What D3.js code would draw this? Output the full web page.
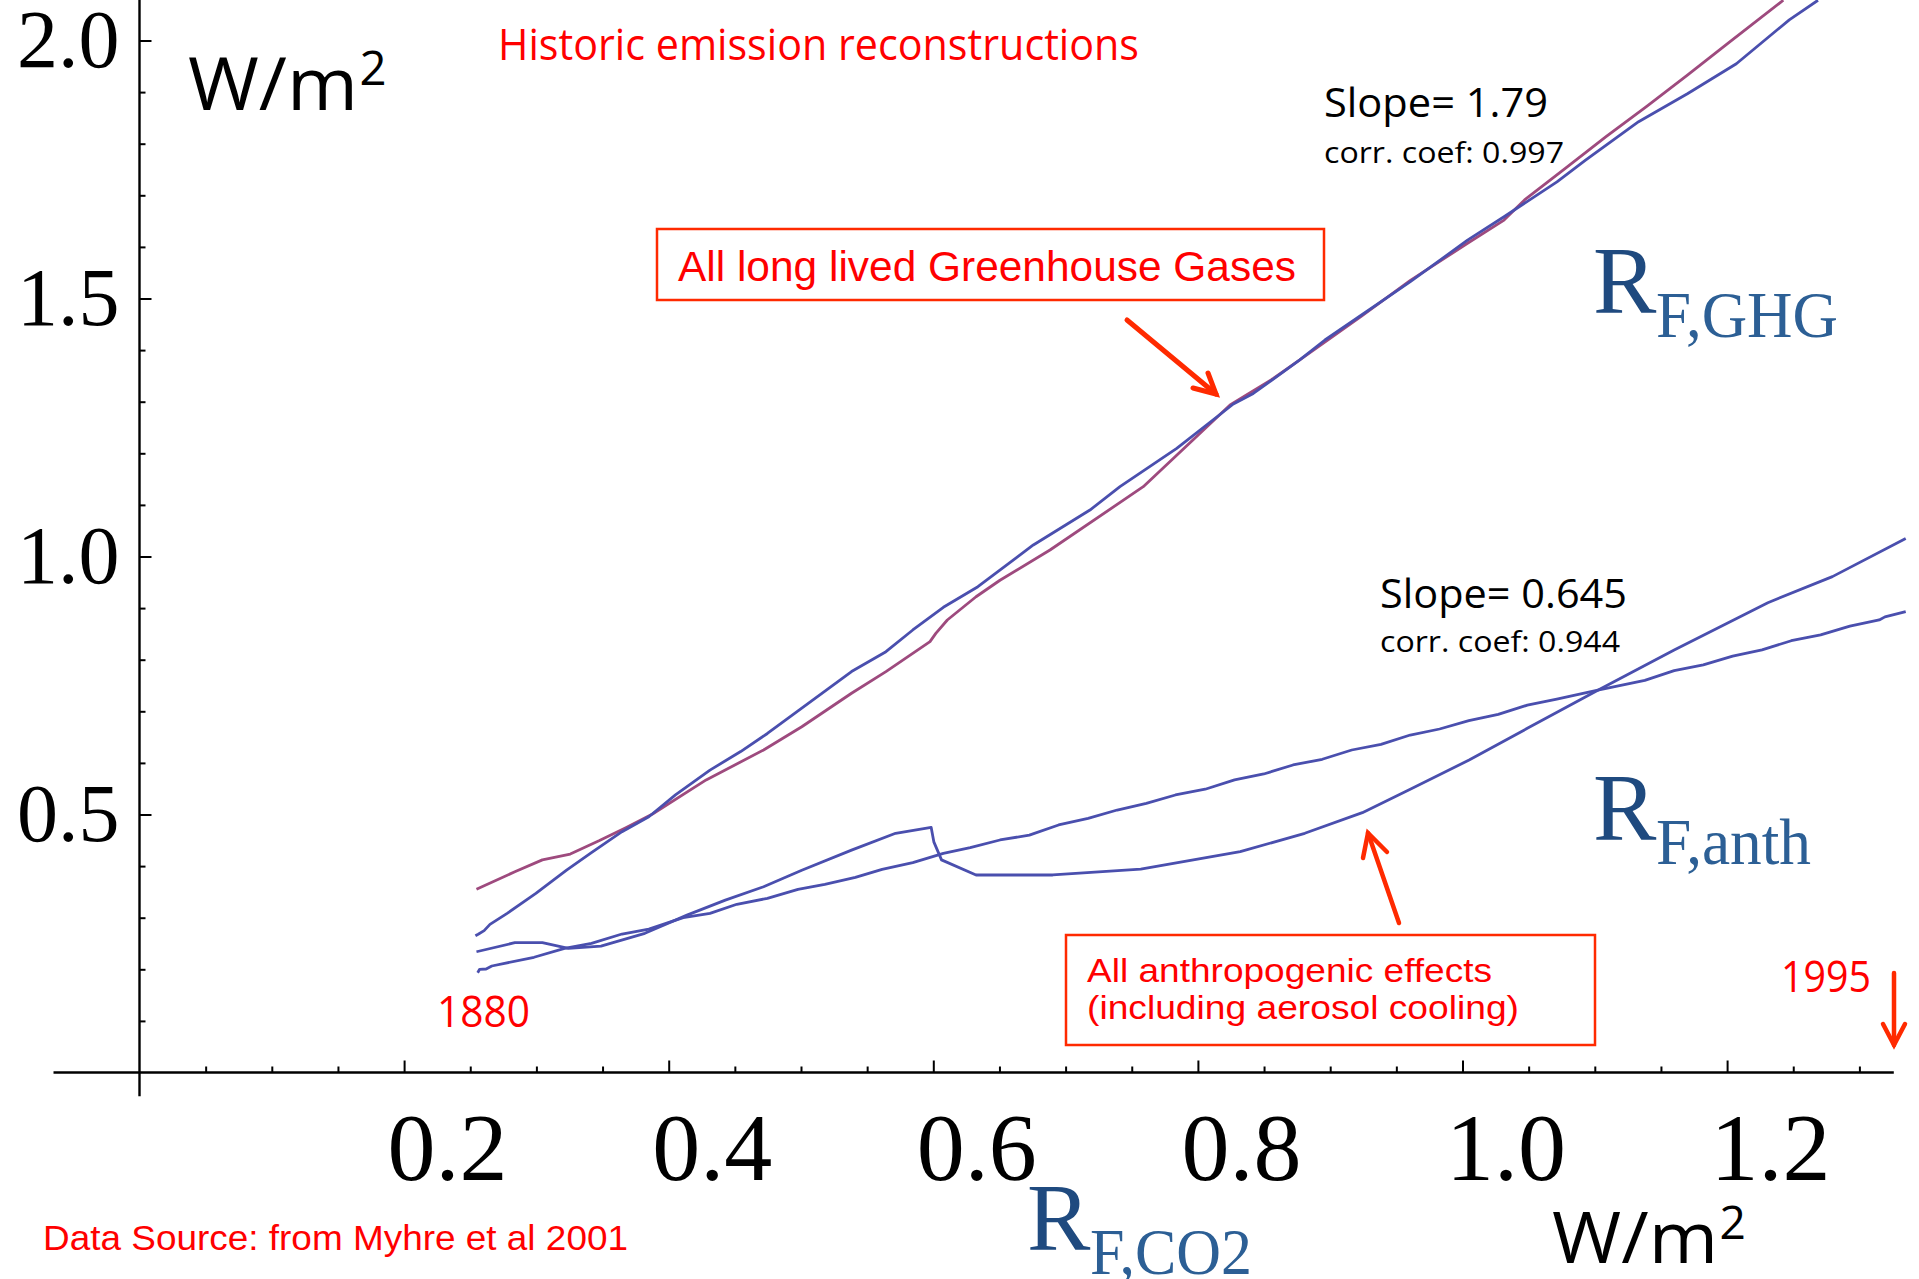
<!DOCTYPE html>
<html>
<head>
<meta charset="utf-8">
<script src="https://cdn.jsdelivr.net/npm/d3@7"></script>
<style>
  html, body { margin: 0; padding: 0; background: #fff; }
  svg { display: block; }
</style>
</head>
<body>
<svg id="chart" width="1919" height="1279"></svg>
<script>
// Radiative forcing of greenhouse gases / all anthropogenic effects
// plotted against CO2 forcing (W/m²), 1880–1995.

// x-axis ticks (CO2 forcing, W/m²)
const xMajorTicks = [0.2, 0.4, 0.6, 0.8, 1.0, 1.2];
const xMinorTicks = [0.05, 0.1, 0.15, 0.25, 0.3, 0.35, 0.45, 0.5, 0.55, 0.65, 0.7, 0.75,
                     0.85, 0.9, 0.95, 1.05, 1.1, 1.15, 1.25, 1.3];
// y-axis ticks (W/m²)
const yMajorTicks = [0.5, 1.0, 1.5, 2.0];
const yMinorTicks = [0.1, 0.2, 0.3, 0.4, 0.6, 0.7, 0.8, 0.9, 1.1, 1.2, 1.3, 1.4,
                     1.6, 1.7, 1.8, 1.9];

// All long-lived greenhouse gases, first reconstruction  [RF_CO2, RF_GHG]
const ghgSeries = [
  [0.2539,0.265],[0.256,0.268],[0.2605,0.275],[0.2649,0.287],[0.2779,0.3085],[0.2996,0.347],
  [0.3228,0.392],[0.3416,0.426],[0.3647,0.4667],[0.385,0.4957],[0.4051,0.538],[0.4312,0.586],
  [0.4544,0.622],[0.4746,0.657],[0.5006,0.706],[0.5382,0.777],[0.5642,0.8155],[0.5845,0.8576],
  [0.6076,0.9015],[0.6337,0.9415],[0.6756,1.0223],[0.7184,1.090],[0.7411,1.1353],[0.784,1.2096],
  [0.8268,1.2955],[0.8419,1.316],[0.877,1.381],[0.896,1.4196],[0.9237,1.468],[0.9606,1.5326],
  [1.0038,1.613],[1.0314,1.6585],[1.0714,1.726],[1.093,1.768],[1.1331,1.8426],[1.170,1.8967],
  [1.207,1.955],[1.247,2.04],[1.2687,2.078]
];
// All long-lived greenhouse gases, second reconstruction
const ghgAltSeries = [
  [0.2547,0.355],[0.2837,0.389],[0.3045,0.412],[0.3256,0.4234],[0.3473,0.449],[0.3676,0.4744],
  [0.3878,0.501],[0.4283,0.567],[0.4717,0.625],[0.5006,0.670],[0.5382,0.735],[0.5642,0.777],
  [0.5975,0.835],[0.6019,0.851],[0.6106,0.877],[0.6323,0.922],[0.6504,0.954],[0.6882,1.0126],
  [0.7587,1.1353],[0.8243,1.2936],[0.857,1.345],[0.877,1.381],[0.9237,1.466],[0.9606,1.535],
  [1.0038,1.607],[1.0314,1.652],[1.0469,1.691],[1.0777,1.752],[1.1085,1.8136],[1.139,1.872],
  [1.170,1.933],[1.2008,1.995],[1.2425,2.078]
];
// All anthropogenic effects (including aerosol cooling), first reconstruction
const anthSeriesA = [
  [0.2547,0.234],[0.2837,0.2516],[0.3045,0.2516],[0.3242,0.2407],[0.3488,0.245],[0.382,0.2697],
  [0.4138,0.305],[0.4428,0.334],[0.4717,0.360],[0.5006,0.392],[0.5382,0.431],[0.5715,0.4636],
  [0.5984,0.475],[0.6004,0.447],[0.6062,0.412],[0.6323,0.3828],[0.6903,0.3828],[0.7568,0.394],
  [0.832,0.428],[0.8808,0.4636],[0.9243,0.5036],[0.9605,0.5488],[1.005,0.6056],[1.049,0.667],
  [1.1023,0.741],[1.16,0.819],[1.2308,0.9105],[1.2796,0.961],[1.335,1.035]
];
// All anthropogenic effects, second reconstruction
const anthSeriesB = [
  [0.2556,0.1934],[0.2571,0.200],[0.262,0.2006],[0.2663,0.2064],[0.2982,0.2233],[0.3213,0.2407],
  [0.3416,0.2504],[0.3647,0.2684],[0.385,0.278],[0.411,0.300],[0.4312,0.3085],[0.4515,0.326],
  [0.4746,0.3376],[0.4977,0.355],[0.518,0.3647],[0.5411,0.378],[0.5613,0.3938],[0.5845,0.4066],
  [0.6076,0.4248],[0.6279,0.4357],[0.6504,0.4506],[0.6726,0.460],[0.6947,0.4797],[0.717,0.4926],
  [0.739,0.5087],[0.761,0.5217],[0.783,0.5378],[0.8055,0.549],[0.8277,0.567],[0.8498,0.5785],
  [0.8719,0.596],[0.894,0.607],[0.9163,0.625],[0.9384,0.636],[0.9605,0.654],[0.9827,0.6657],
  [1.0048,0.6818],[1.027,0.694],[1.049,0.712],[1.0713,0.7236],[1.1023,0.741],[1.1378,0.760],
  [1.16,0.7788],[1.182,0.790],[1.2042,0.807],[1.2264,0.819],[1.2485,0.8368],[1.2707,0.848],
  [1.2928,0.865],[1.315,0.877],[1.3193,0.883],[1.335,0.893]
];

const svg = d3.select("#chart");
svg.append("rect").attr("width", 1919).attr("height", 1279).attr("fill", "#fff");

const x = d3.scaleLinear().domain([0, 1.2]).range([139.5, 1727.1]);
const y = d3.scaleLinear().domain([0, 2]).range([1072.5, 40.5]);

const RED = "#ff0000";
const ARROW_RED = "#ff2a00";
const BLUE_LINE = "#4a4fae";
const PURPLE_LINE = "#9e4a7e";
const SANS = "'Open Sans', 'Noto Sans', sans-serif";
const SERIF = "'Liberation Serif', 'Times New Roman', serif";
const ARIAL = "'Liberation Sans', Arial, sans-serif";

// ---- axes ----
const axisColor = "#000";
// x axis
const gx = svg.append("g").attr("transform", `translate(0,${y(0)})`);
gx.append("g").call(d3.axisBottom(x).tickValues(xMinorTicks).tickSize(-6).tickFormat(""))
  .call(g => g.select(".domain").remove());
const gxMajor = gx.append("g")
  .call(d3.axisBottom(x).tickValues(xMajorTicks).tickSize(-12).tickPadding(39)
        .tickFormat(d3.format(".1f")))
  .call(g => g.select(".domain").remove());
gxMajor.selectAll("text")
  .attr("x", 43)
  .attr("font-family", SERIF).attr("font-size", 96).attr("fill", "#000");
gx.selectAll("line").attr("stroke", axisColor).attr("stroke-width", 2);
gx.append("line")
  .attr("x1", x(-0.065)).attr("x2", x(1.326))
  .attr("stroke", axisColor).attr("stroke-width", 2.4);

// y axis
const gy = svg.append("g").attr("transform", `translate(${x(0)},0)`);
gy.append("g").call(d3.axisLeft(y).tickValues(yMinorTicks).tickSize(-6).tickFormat(""))
  .call(g => g.select(".domain").remove());
const gyMajor = gy.append("g")
  .call(d3.axisLeft(y).tickValues(yMajorTicks).tickSize(-12).tickPadding(20)
        .tickFormat(d3.format(".1f")))
  .call(g => g.select(".domain").remove());
gyMajor.selectAll("text")
  .attr("font-family", SERIF).attr("font-size", 82).attr("fill", "#000");
gy.selectAll("line").attr("stroke", axisColor).attr("stroke-width", 2);
gy.append("line")
  .attr("y1", y(2.1)).attr("y2", y(-0.046))
  .attr("stroke", axisColor).attr("stroke-width", 2.4);

// ---- data lines ----
svg.append("clipPath").attr("id", "plotClip")
  .append("rect").attr("x", x(0)).attr("y", 0)
  .attr("width", 1919 - x(0)).attr("height", y(0));

const line = d3.line().x(d => x(d[0])).y(d => y(d[1]));
const lines = svg.append("g").attr("clip-path", "url(#plotClip)")
  .attr("fill", "none").attr("stroke-width", 2.8)
  .attr("stroke-linejoin", "round").attr("stroke-linecap", "butt");
lines.append("path").datum(ghgAltSeries).attr("d", line).attr("stroke", PURPLE_LINE);
lines.append("path").datum(ghgSeries).attr("d", line).attr("stroke", BLUE_LINE);
lines.append("path").datum(anthSeriesB).attr("d", line).attr("stroke", BLUE_LINE);
lines.append("path").datum(anthSeriesA).attr("d", line).attr("stroke", BLUE_LINE);

// ---- text helpers ----
function label(txt, xPos, yPos, opts) {
  const t = svg.append("text")
    .attr("x", xPos).attr("y", yPos)
    .attr("font-family", opts.family || SANS)
    .attr("font-size", opts.size)
    .attr("fill", opts.fill || "#000")
    .text(txt);
  if (opts.width) t.attr("textLength", opts.width).attr("lengthAdjust", "spacingAndGlyphs");
  return t;
}

function unitLabel(xPos, yPos, size, width) {
  const t = svg.append("text")
    .attr("x", xPos).attr("y", yPos)
    .attr("font-family", SANS).attr("font-size", size).attr("fill", "#000");
  t.append("tspan").text("W/m").attr("textLength", width).attr("lengthAdjust", "spacingAndGlyphs");
  t.append("tspan").text("2").attr("font-size", size * 0.64)
    .attr("dx", size * 0.02).attr("dy", -size * 0.34);
}

function forcingLabel(sub, xPos, yPos, subWidth) {
  label("R", xPos, yPos, { family: SERIF, size: 95, fill: "#1f4a7f" });
  label(sub, xPos + 63, yPos + 24, { family: SERIF, size: 65, fill: "#2c5f95", width: subWidth });
}

function arrow(from, to, barbA, barbB, width) {
  const g = svg.append("g").attr("stroke", ARROW_RED).attr("stroke-width", width)
    .attr("fill", "none").attr("stroke-linecap", "round").attr("stroke-linejoin", "miter");
  g.append("line").attr("x1", from[0]).attr("y1", from[1]).attr("x2", to[0]).attr("y2", to[1]);
  g.append("polyline").attr("points", [barbA, to, barbB].map(p => p.join(",")).join(" "));
}

// ---- annotations ----
unitLabel(188, 110, 74, 170);
unitLabel(1552, 1263, 72, 166);

label("Historic emission reconstructions", 498, 60, { size: 43, fill: RED, width: 641 });

svg.append("rect").attr("x", 657).attr("y", 229).attr("width", 667).attr("height", 71)
  .attr("fill", "none").attr("stroke", ARROW_RED).attr("stroke-width", 2.5);
label("All long lived Greenhouse Gases", 678, 281, { family: ARIAL, size: 43, fill: RED, width: 618 });
arrow([1127, 320], [1216, 394], [1193, 388], [1208, 373], 5);

label("Slope= 1.79", 1324, 117, { size: 40, width: 224 });
label("corr. coef: 0.997", 1324, 163, { size: 29, width: 240 });
forcingLabel("F,GHG", 1593, 313, 182);

label("Slope= 0.645", 1380, 608, { size: 40, width: 247 });
label("corr. coef: 0.944", 1380, 652, { size: 29, width: 240 });
forcingLabel("F,anth", 1593, 840, 155);

svg.append("rect").attr("x", 1066).attr("y", 935).attr("width", 529).attr("height", 110)
  .attr("fill", "none").attr("stroke", ARROW_RED).attr("stroke-width", 2.5);
label("All anthropogenic effects", 1087, 982, { family: ARIAL, size: 33, fill: RED, width: 405 });
label("(including aerosol cooling)", 1087, 1019, { family: ARIAL, size: 33, fill: RED, width: 432 });
arrow([1399, 923], [1368, 833], [1363, 858], [1387, 852], 4.5);

label("1995", 1781, 992, { size: 43, fill: RED, width: 90 });
arrow([1894, 973], [1894, 1045], [1883, 1024], [1905, 1024], 4.5);

label("1880", 437, 1027, { size: 43, fill: RED, width: 93 });

label("Data Source: from Myhre et al 2001", 43, 1250, { family: ARIAL, size: 35, fill: RED, width: 585 });
forcingLabel("F,CO2", 1027, 1250, 162);
</script>
</body>
</html>
